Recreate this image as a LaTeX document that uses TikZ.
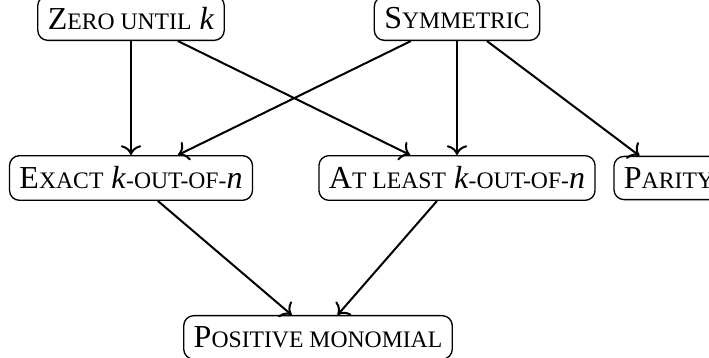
\documentclass[tikz,border=0pt]{standalone}
\usepackage{fontspec}
\setmainfont{Liberation Serif}
\usetikzlibrary{arrows.meta, positioning}

% small capitals faked from upper case
\newcommand{\lowcaps}[1]{{\fontsize{7.1}{9}\selectfont\MakeUppercase{#1}}}

\begin{document}
\begin{tikzpicture}[
  x=0.3pt, y=-0.3pt,
  node distance=34.2pt,
  box/.style={rectangle, draw, thin, rounded corners=3pt, fill=white,
              minimum height=12.6pt, inner xsep=3pt, font=\fontsize{9.6}{12}\selectfont},
  arrow/.style={->, semithick},
]
  \useasboundingbox (0,0) rectangle (709,358);

  \node[box] (exact) at (131,178) {E\lowcaps{xact} \textit{k}\lowcaps{-out-of-}\textit{n}};
  \node[box] (atleast) at (457,178) {A\lowcaps{t least} \textit{k}\lowcaps{-out-of-}\textit{n}};
  \node[box] (parity) at (669,178) {P\lowcaps{arity}};

  \node[box, above=of exact] (zero) {Z\lowcaps{ero until} \textit{k}};
  \node[box, above=of atleast] (sym) {S\lowcaps{ymmetric}};

  \node[box, below=of exact, xshift=56.1pt] (pos) {P\lowcaps{ositive monomial}};

  \draw[arrow] (zero) -- (exact);
  \draw[arrow] (zero) -- (atleast);
  \draw[arrow] (sym) -- (exact);
  \draw[arrow] (sym) -- (atleast);
  \draw[arrow] (sym) -- (parity);

  \draw[arrow] (exact) -- (pos);
  \draw[arrow] (atleast) -- (pos);
\end{tikzpicture}
\end{document}
